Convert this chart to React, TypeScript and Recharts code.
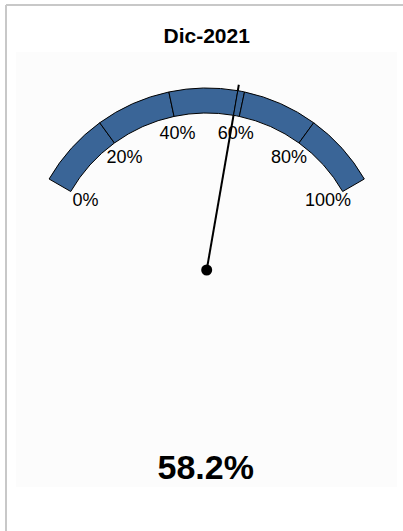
import { PieChart, Pie, Cell } from "recharts";

// Gauge data
const title = "Dic-2021";
const gaugeValue = 58.2;
const tickValues = [0, 20, 40, 60, 80, 100];
const tickLabels = ["0%", "20%", "40%", "60%", "80%", "100%"];

const W = 403;
const H = 531;
const CX = 206.7;
const CY = 270;
const START = 150;
const END = 30;
const RAD = Math.PI / 180;

// segments of the band: split at every tick and at the needle value
const bounds = [...tickValues, gaugeValue].sort((a, b) => a - b);
const segments = bounds.slice(1).map((b, i) => ({ name: `s${i}`, size: b - bounds[i] }));

const angleOf = (v: number) => START + ((END - START) * (v - tickValues[0])) / (tickValues[tickValues.length - 1] - tickValues[0]);
const polar = (r: number, a: number) => ({ x: CX + r * Math.cos(a * RAD), y: CY - r * Math.sin(a * RAD) });

export default function App() {
  const tip = polar(188, angleOf(gaugeValue));
  return (
    <div style={{ position: "absolute", left: 0, top: 0, width: W, height: H, background: "#fff" }}>
      <PieChart width={W} height={H} margin={{ top: 0, right: 0, bottom: 0, left: 0 }}>
        <rect x={16} y={52} width={381} height={435} fill="#fcfcfc" />
        <line x1={6} y1={5} x2={W} y2={5} stroke="#c8c8c8" strokeWidth={2} />
        <line x1={6} y1={5} x2={6} y2={H} stroke="#c8c8c8" strokeWidth={2} />
        <text
          x={CX}
          y={35}
          textAnchor="middle"
          dominantBaseline="central"
          fontFamily="Liberation Sans, Arial, sans-serif"
          fontWeight="bold"
          fontSize={21}
          fill="#000"
        >
          {title}
        </text>
        <Pie
          data={segments}
          dataKey="size"
          cx={CX}
          cy={CY}
          innerRadius={157}
          outerRadius={182}
          startAngle={START}
          endAngle={END}
          stroke="#000"
          strokeWidth={1}
          isAnimationActive={false}
          label={false}
          labelLine={false}
        >
          {segments.map((s) => (
            <Cell key={s.name} fill="#3A6597" />
          ))}
        </Pie>
        {tickValues.map((v, i) => {
          const p = polar(140, angleOf(v));
          return (
            <text
              key={v}
              x={p.x}
              y={p.y}
              textAnchor="middle"
              dominantBaseline="central"
              fontFamily="Liberation Sans, Arial, sans-serif"
              fontSize={18}
              fill="#000"
            >
              {tickLabels[i]}
            </text>
          );
        })}
        <line x1={CX} y1={CY} x2={tip.x} y2={tip.y} stroke="#000" strokeWidth={2} />
        <circle cx={CX} cy={CY} r={5.5} fill="#000" />
        <text
          x={CX - 1}
          y={467}
          textAnchor="middle"
          dominantBaseline="central"
          fontFamily="Liberation Sans, Arial, sans-serif"
          fontWeight="bold"
          fontSize={34}
          fill="#000"
        >
          {`${gaugeValue.toFixed(1)}%`}
        </text>
      </PieChart>
    </div>
  );
}
